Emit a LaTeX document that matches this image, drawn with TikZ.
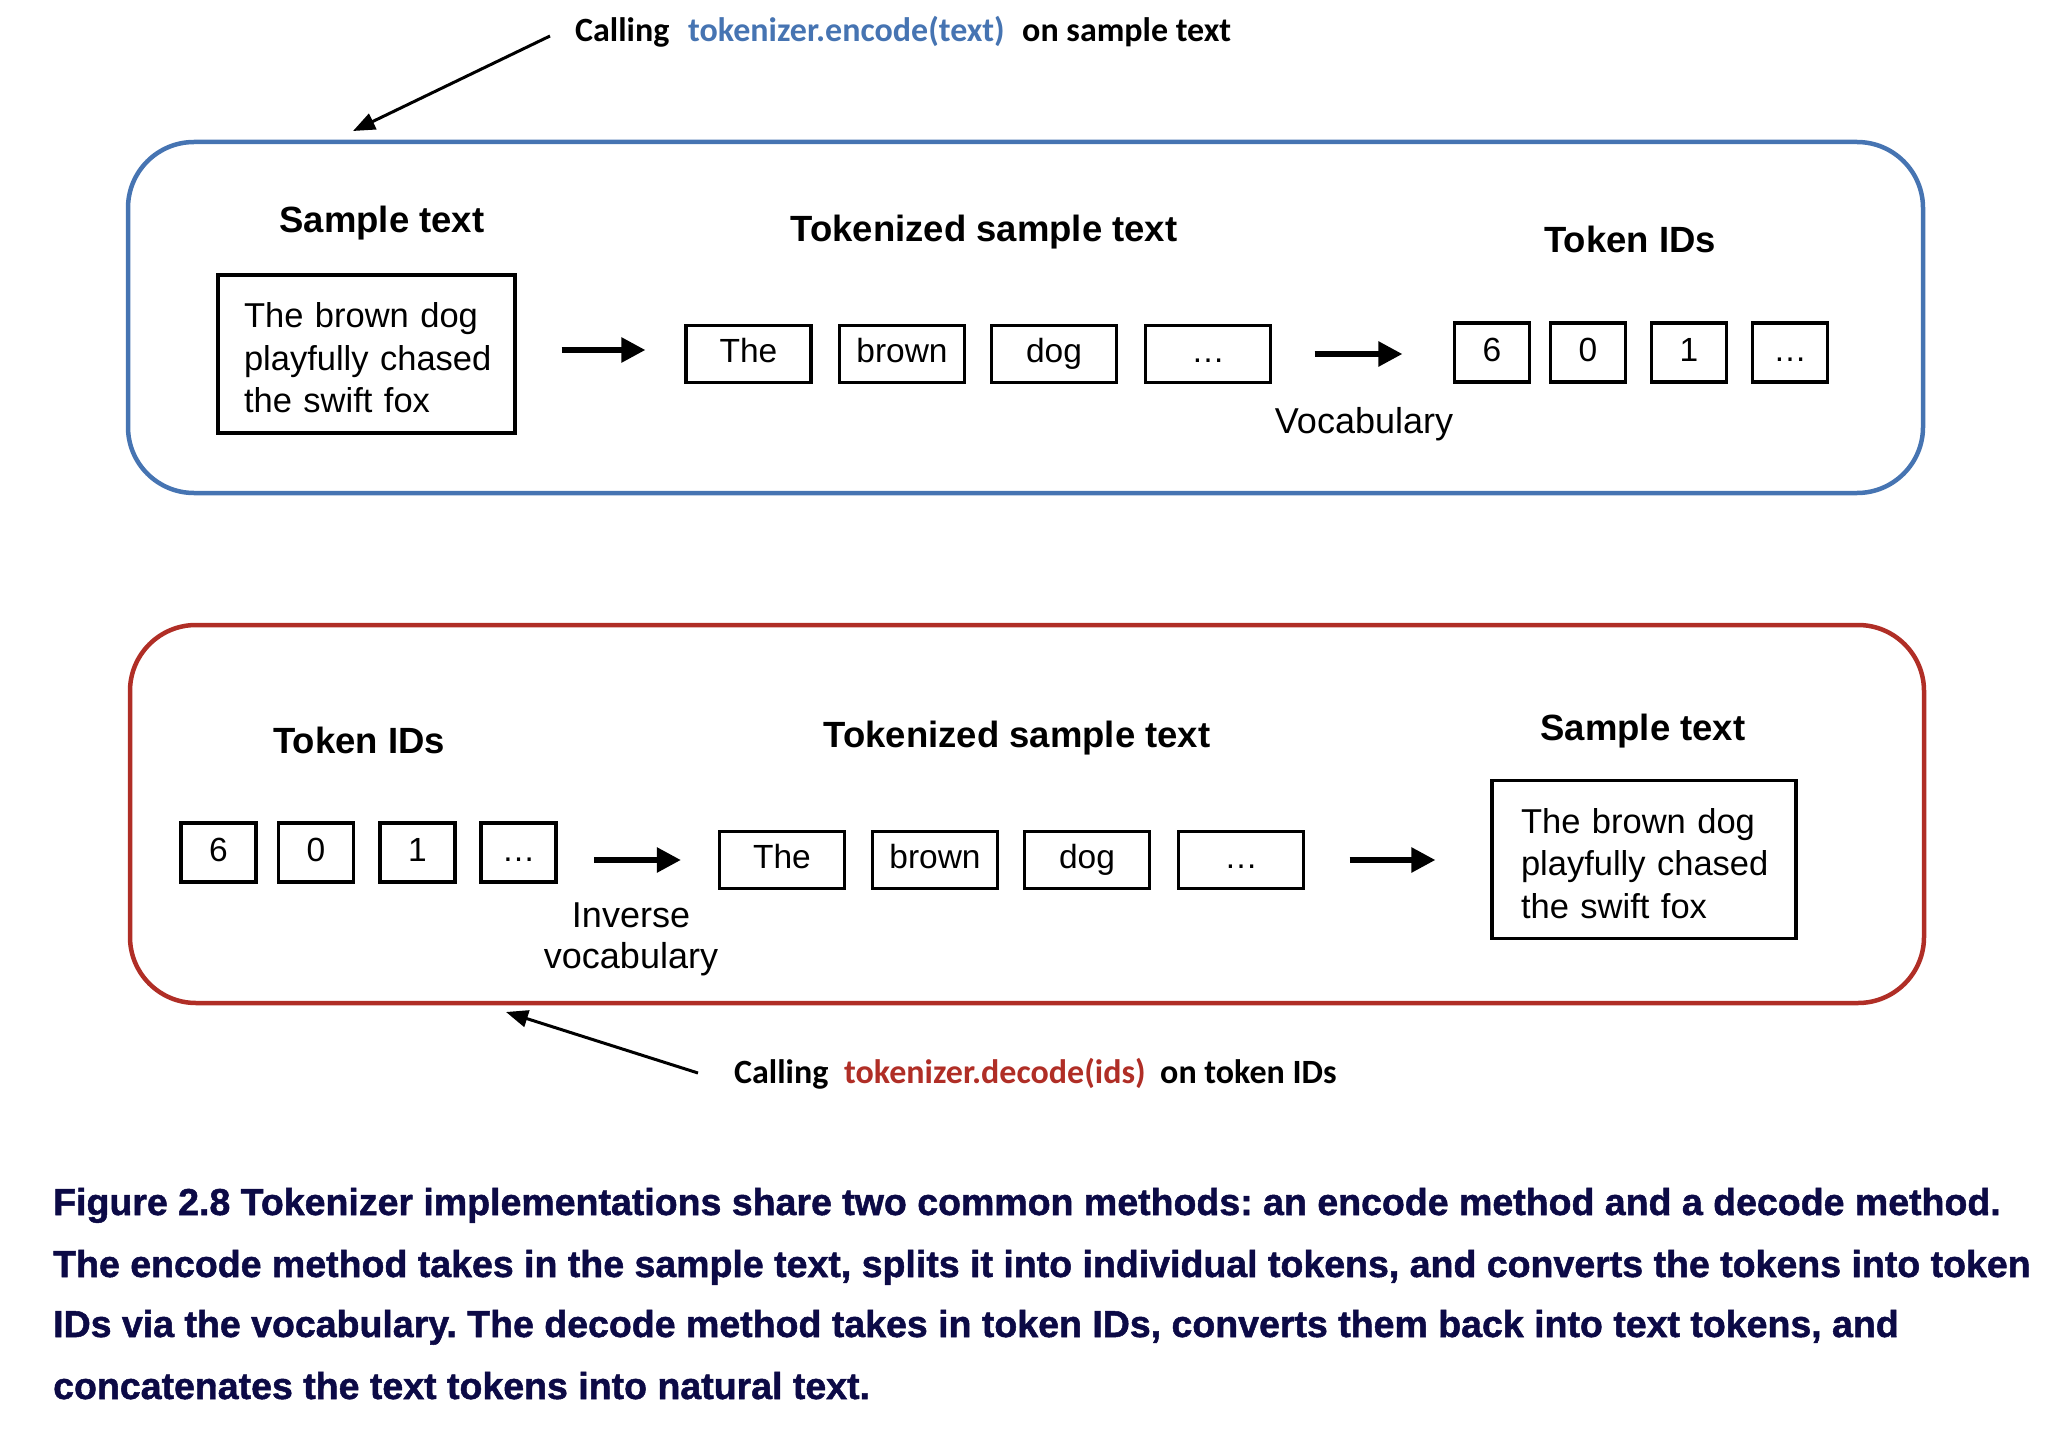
\documentclass[tikz,border=0pt]{standalone}
\usepackage{fontspec}
\setmainfont{Liberation Sans}
\newfontfamily\lblfont{Carlito}
\newfontfamily\capfont{Liberation Sans}[BoldFeatures={FakeBold=1.3}]
\usetikzlibrary{arrows.meta}
\definecolor{encblue}{RGB}{70,116,178}
\definecolor{decred}{RGB}{176,46,38}
\definecolor{capnavy}{RGB}{12,10,70}
\frenchspacing
\begin{document}
\begin{tikzpicture}[x=1pt,y=-1pt,
  head/.style={font=\fontsize{36.5}{44}\selectfont\bfseries, anchor=base, inner sep=0pt},
  plain/.style={font=\fontsize{36}{42}\selectfont, anchor=base, inner sep=0pt},
  tok/.style={draw, line width=3.2pt, minimum width=125pt, minimum height=57pt, inner sep=0pt,
    text height=24pt, text depth=7pt, font=\fontsize{33.5}{40}\selectfont},
  idbox/.style={tok, minimum width=75pt, minimum height=59pt},
  sbox/.style={draw, line width=3.2pt, minimum height=158pt, inner ysep=0pt, align=left,
    font=\fontsize{34.5}{42.5}\selectfont},
  flow/.style={line width=5.5pt, -{Triangle[length=24pt,width=24pt]}},
  call/.style={line width=3pt, -{Triangle[length=22pt,width=17pt]}},
  lbl/.style={font=\lblfont\bfseries\fontsize{34}{40}\selectfont, anchor=base west, inner sep=0pt},
  frame/.style={line width=4.5pt, rounded corners=66pt, inner sep=0pt},
  capline/.style={font=\capfont\bfseries\fontsize{37.5}{44}\selectfont, text=capnavy, anchor=base west, inner sep=0pt}
]
\useasboundingbox (0,0) rectangle (2062,1434);

% ---------- encode frame ----------
\node[frame, draw=encblue, minimum width=1795pt, minimum height=351pt] (encframe) at (1025.5,317.5) {};

\node[lbl] (encCall) at (575,42) {Calling};
\node[lbl, text=encblue] (encFun) at (688,42) {tokenizer.encode(text)};
\node[lbl] (encOn) at (1022,42) {on sample text};
\coordinate (enctail) at (550,36);
\coordinate (enctip) at (353,131);
\draw[call] (enctail) -- (enctip);

\node[head] (h1) at (382,233) {Sample text};
\node[head] (h2) at (984,242) {Tokenized sample text};
\node[head] (h3) at (1630,253) {Token IDs};

\node[sbox, minimum width=297pt, inner xsep=26pt, text width=245pt] (s1) at (366.5,354)
  {\rule{0pt}{33pt}\mbox{The brown dog}\\\mbox{playfully chased}\\\mbox{the swift fox}};

\node[tok] (t1) at (748.5,354) {The};
\node[tok] (t2) at (902,354) {brown};
\node[tok] (t3) at (1054,354) {dog};
\node[tok] (t4) at (1208,354) {…};

\node[idbox] (i1) at (1492,352.5) {6};
\node[idbox] (i2) at (1588,352.5) {0};
\node[idbox] (i3) at (1689,352.5) {1};
\node[idbox] (i4) at (1790,352.5) {…};

\node[plain] (voc) at (1364,433) {Vocabulary};

\draw[flow, shorten <=45pt, shorten >=39pt] (s1.east |- 0,350) -- (t1.west |- 0,350);
\draw[flow, shorten <=42.5pt, shorten >=50.5pt] (t4.east) -- (t4.east -| i1.west);

% ---------- decode frame ----------
\node[frame, draw=decred, minimum width=1794pt, minimum height=378pt] (decframe) at (1027,814) {};

\node[head] (g1) at (359,753) {Token IDs};
\node[head] (g2) at (1017,747) {Tokenized sample text};
\node[head] (g3) at (1643,740) {Sample text};

\node[idbox] (j1) at (218.5,852.5) {6};
\node[idbox] (j2) at (316,852.5) {0};
\node[idbox] (j3) at (417.5,852.5) {1};
\node[idbox] (j4) at (518.5,852.5) {…};

\node[tok] (u1) at (782,860) {The};
\node[tok] (u2) at (935,860) {brown};
\node[tok] (u3) at (1087,860) {dog};
\node[tok] (u4) at (1241,860) {…};

\node[sbox, minimum width=304pt, inner xsep=29pt, text width=246pt] (s2) at (1644,859.5)
  {\rule{0pt}{33pt}\mbox{The brown dog}\\\mbox{playfully chased}\\\mbox{the swift fox}};

\node[plain] (inv1) at (631,927) {Inverse};
\node[plain] (inv2) at (631,968) {vocabulary};

\draw[flow, shorten <=36.5pt, shorten >=37pt] (j4.east |- u1.west) -- (u1.west);
\draw[flow, shorten <=44.5pt, shorten >=55pt] (u4.east) -- (u4.east -| s2.west);

\node[lbl] (decCall) at (734,1083) {Calling};
\node[lbl, text=decred] (decFun) at (844,1083) {tokenizer.decode(ids)};
\node[lbl] (decOn) at (1160,1083) {on token IDs};
\coordinate (dectail) at (698,1073);
\coordinate (dectip) at (506,1012);
\draw[call] (dectail) -- (dectip);

% ---------- caption ----------
\node[capline] (c1) at (53,1215) {Figure 2.8 Tokenizer implementations share two common methods: an encode method and a decode method.};
\node[capline] (c2) at (53,1277) {The encode method takes in the sample text, splits it into individual tokens, and converts the tokens into token};
\node[capline] (c3) at (53,1337) {IDs via the vocabulary. The decode method takes in token IDs, converts them back into text tokens, and};
\node[capline] (c4) at (53,1399) {concatenates the text tokens into natural text.};
\end{tikzpicture}
\end{document}
